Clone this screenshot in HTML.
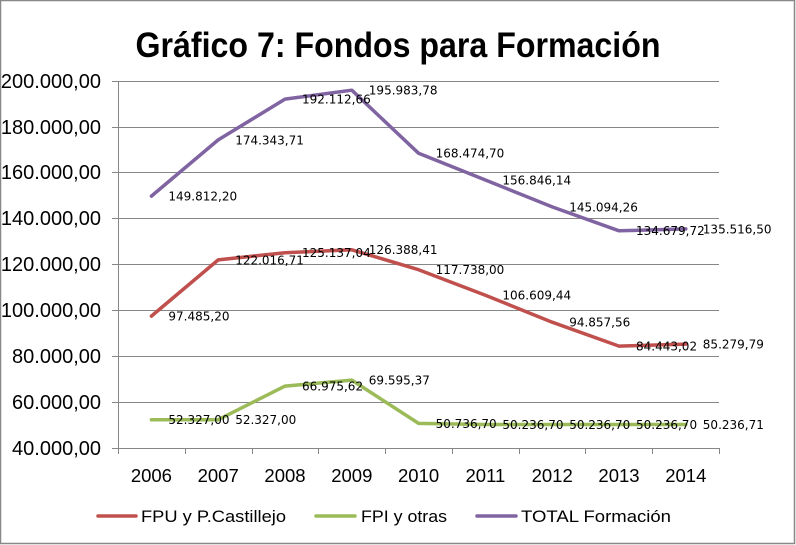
<!DOCTYPE html>
<html><head><meta charset="utf-8"><style>
html,body{margin:0;padding:0;background:#fff;}
svg{display:block;}
</style></head><body>
<svg width="796" height="545" viewBox="0 0 796 545" xmlns="http://www.w3.org/2000/svg">
<rect x="0.5" y="0.5" width="794" height="543" fill="#fff" stroke="#888" stroke-width="1.5"/>
<text x="398" y="57" text-anchor="middle" font-family="Liberation Sans, sans-serif" font-weight="bold" font-size="35" textLength="525" lengthAdjust="spacingAndGlyphs" fill="#000">Gráfico 7: Fondos para Formación</text>
<g stroke="#868686" stroke-width="1">
<line x1="112" y1="81.5" x2="719" y2="81.5"/>
<line x1="112" y1="127.5" x2="719" y2="127.5"/>
<line x1="112" y1="172.5" x2="719" y2="172.5"/>
<line x1="112" y1="218.5" x2="719" y2="218.5"/>
<line x1="112" y1="264.5" x2="719" y2="264.5"/>
<line x1="112" y1="310.5" x2="719" y2="310.5"/>
<line x1="112" y1="356.5" x2="719" y2="356.5"/>
<line x1="112" y1="402.5" x2="719" y2="402.5"/>
<line x1="112" y1="448.5" x2="719" y2="448.5"/>
<line x1="118.5" y1="81" x2="118.5" y2="448"/>
<line x1="118.5" y1="448" x2="118.5" y2="454"/>
<line x1="185.5" y1="448" x2="185.5" y2="454"/>
<line x1="252.5" y1="448" x2="252.5" y2="454"/>
<line x1="318.5" y1="448" x2="318.5" y2="454"/>
<line x1="385.5" y1="448" x2="385.5" y2="454"/>
<line x1="452.5" y1="448" x2="452.5" y2="454"/>
<line x1="519.5" y1="448" x2="519.5" y2="454"/>
<line x1="585.5" y1="448" x2="585.5" y2="454"/>
<line x1="652.5" y1="448" x2="652.5" y2="454"/>
<line x1="719.5" y1="448" x2="719.5" y2="454"/>
</g>
<g font-family="Liberation Sans, sans-serif" font-size="20" fill="#000" text-anchor="end">
<text x="101" y="88">200.000,00</text>
<text x="101" y="134">180.000,00</text>
<text x="101" y="179">160.000,00</text>
<text x="101" y="225">140.000,00</text>
<text x="101" y="271">120.000,00</text>
<text x="101" y="317">100.000,00</text>
<text x="101" y="363">80.000,00</text>
<text x="101" y="409">60.000,00</text>
<text x="101" y="455">40.000,00</text>
</g>
<g font-family="Liberation Sans, sans-serif" font-size="18.5" fill="#000" text-anchor="middle">
<text x="151.4" y="482">2006</text>
<text x="218.2" y="482">2007</text>
<text x="285" y="482">2008</text>
<text x="351.8" y="482">2009</text>
<text x="418.6" y="482">2010</text>
<text x="485.4" y="482">2011</text>
<text x="552.2" y="482">2012</text>
<text x="619" y="482">2013</text>
<text x="685.8" y="482">2014</text>
</g>
<g fill="none" stroke-width="3.5" stroke-linejoin="round" stroke-linecap="round">
<polyline stroke="#8064A2" points="151.4,196.1 218.2,139.9 285,99.1 351.8,90.2 418.6,153.3 485.4,180 552.2,206.9 619,230.8 685.8,228.9"/>
<polyline stroke="#C0504D" points="151.4,316.1 218.2,259.9 285,252.7 351.8,249.8 418.6,269.7 485.4,295.2 552.2,322.2 619,346.1 685.8,344.1"/>
<polyline stroke="#9BBB59" points="151.4,419.7 218.2,419.7 285,386.1 351.8,380.1 418.6,423.4 485.4,424.5 552.2,424.5 619,424.5 685.8,424.5"/>
</g>
<g font-family="DejaVu Sans, sans-serif" font-size="12" fill="#000">
<text x="168.4" y="200.5">149.812,20</text>
<text x="235.2" y="144.3">174.343,71</text>
<text x="302" y="103.5">192.112,66</text>
<text x="368.8" y="94.6">195.983,78</text>
<text x="435.6" y="157.7">168.474,70</text>
<text x="502.4" y="184.4">156.846,14</text>
<text x="569.2" y="211.3">145.094,26</text>
<text x="636" y="235.2">134.679,72</text>
<text x="702.8" y="233.3">135.516,50</text>
<text x="168.4" y="320.5">97.485,20</text>
<text x="235.2" y="264.3">122.016,71</text>
<text x="302" y="257.1">125.137,04</text>
<text x="368.8" y="254.2">126.388,41</text>
<text x="435.6" y="274.1">117.738,00</text>
<text x="502.4" y="299.6">106.609,44</text>
<text x="569.2" y="326.6">94.857,56</text>
<text x="636" y="350.5">84.443,02</text>
<text x="702.8" y="348.5">85.279,79</text>
<text x="168.4" y="424.1">52.327,00</text>
<text x="235.2" y="424.1">52.327,00</text>
<text x="302" y="390.5">66.975,62</text>
<text x="368.8" y="384.5">69.595,37</text>
<text x="435.6" y="427.8">50.736,70</text>
<text x="502.4" y="428.9">50.236,70</text>
<text x="569.2" y="428.9">50.236,70</text>
<text x="636" y="428.9">50.236,70</text>
<text x="702.8" y="428.9">50.236,71</text>
</g>
<g stroke-width="3.5" stroke-linecap="round">
<line x1="98" y1="516" x2="136" y2="516" stroke="#C0504D"/>
<line x1="316" y1="516" x2="355" y2="516" stroke="#9BBB59"/>
<line x1="477" y1="516" x2="516" y2="516" stroke="#8064A2"/>
</g>
<g font-family="Liberation Sans, sans-serif" font-size="17" fill="#000">
<text x="141" y="522" textLength="145" lengthAdjust="spacingAndGlyphs">FPU y P.Castillejo</text>
<text x="361" y="522" textLength="86" lengthAdjust="spacingAndGlyphs">FPI y otras</text>
<text x="521" y="522" textLength="150" lengthAdjust="spacingAndGlyphs">TOTAL Formación</text>
</g>
</svg>
</body></html>
